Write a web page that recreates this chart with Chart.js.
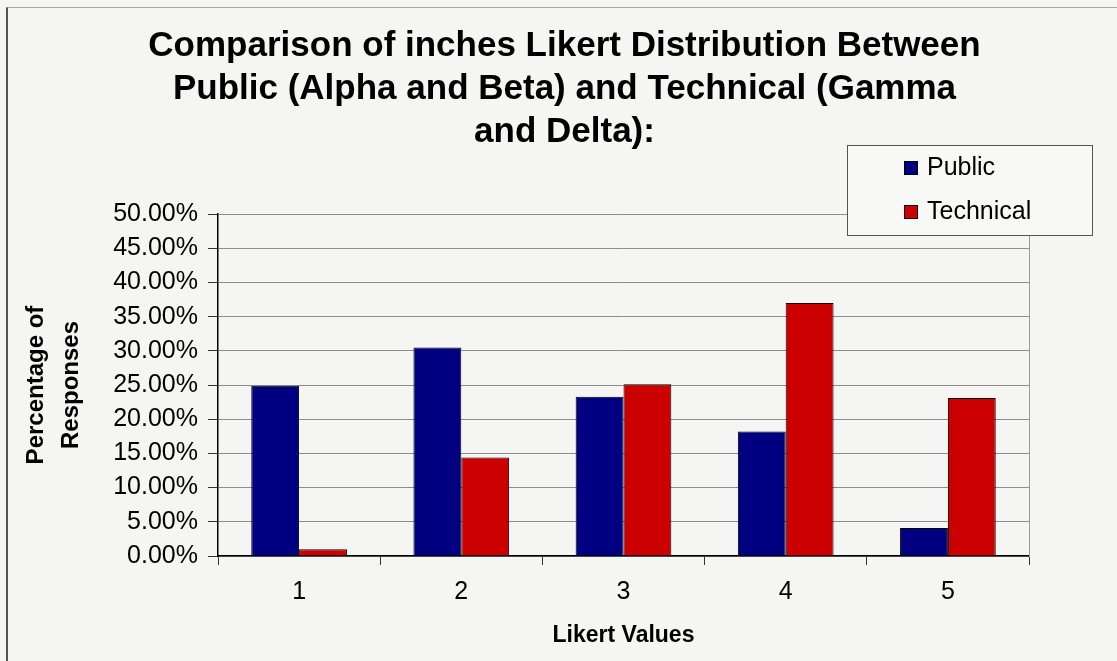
<!DOCTYPE html>
<html>
<head>
<meta charset="utf-8">
<script src="https://cdn.jsdelivr.net/npm/chart.js@4"></script>
<style>
  body { margin: 0; background: #f5f5f3; overflow: hidden; }
  #moldura { position: absolute; left: 6px; top: 7px; width: 1120px; height: 660px; border-left: 2px solid #555; border-top: 1px solid #a8a8a8; }
  #caixa { position: absolute; left: 0; top: 0; width: 1117px; height: 661px; }
</style>
</head>
<body>
<div id="moldura"></div>
<div id="caixa"><canvas id="grafico"></canvas></div>
<script>
// dados (percentual de respostas)
var categorias = ['1', '2', '3', '4', '5'];
var publico = [24.9, 30.5, 23.3, 18.2, 4.1];
var tecnico = [1.0, 14.4, 25.1, 37.0, 23.1];
var nomesSeries = ['Public', 'Technical'];
var titulo = ['Comparison of inches Likert Distribution Between',
              'Public (Alpha and Beta) and Technical (Gamma',
              'and Delta):'];

Chart.defaults.font.family = '"Liberation Sans", Arial, sans-serif';
Chart.defaults.color = '#000';

// legenda desenhada a mao, caixa no canto superior direito
var legendaCaixa = {
  id: 'legendaCaixa',
  afterDraw: function(chart) {
    var ctx = chart.ctx;
    ctx.save();
    ctx.fillStyle = '#f8f8f6';
    ctx.fillRect(847, 145, 245, 90);
    ctx.strokeStyle = '#555';
    ctx.lineWidth = 1;
    ctx.strokeRect(847.5, 145.5, 245, 90);
    chart.data.datasets.forEach(function(ds, i) {
      var y = 168 + i * 44;
      ctx.fillStyle = ds.backgroundColor;
      ctx.fillRect(904, y - 7, 14, 14);
      ctx.strokeStyle = '#000';
      ctx.strokeRect(904.5, y - 6.5, 13, 13);
      ctx.fillStyle = '#000';
      ctx.font = '25px "Liberation Sans", Arial, sans-serif';
      ctx.textBaseline = 'middle';
      ctx.fillText(ds.label, 927, y);
    });
    ctx.restore();
  }
};

var ctx = document.getElementById('grafico').getContext('2d');
var grafico = new Chart(ctx, {
  type: 'bar',
  data: {
    labels: categorias,
    datasets: [
      { label: nomesSeries[0], data: publico, backgroundColor: '#000080', borderColor: '#000', borderWidth: 1 },
      { label: nomesSeries[1], data: tecnico, backgroundColor: '#cc0000', borderColor: '#000', borderWidth: 1 }
    ]
  },
  options: {
    responsive: true,
    maintainAspectRatio: false,
    animation: false,
    categoryPercentage: 0.59,
    barPercentage: 1.0,
    layout: { padding: { left: 12, right: 0, top: 0, bottom: 0 } },
    plugins: {
      legend: { display: false },
      tooltip: { enabled: false },
      title: {
        display: true,
        text: titulo,
        color: '#000',
        font: { size: 35, weight: 'bold', lineHeight: 1.229 },
        padding: { top: 25, bottom: 60 }
      }
    },
    scales: {
      x: {
        ticks: { color: '#000', font: { size: 25 }, padding: 12 },
        grid: { drawOnChartArea: false, tickColor: '#333', tickLength: 9 },
        border: { color: '#000', width: 1.5 },
        title: { display: true, text: 'Likert Values', color: '#000', font: { size: 23, weight: 'bold' }, padding: { top: 0, bottom: 12 } },
        afterFit: function(s) { s.height = 105; }
      },
      y: {
        min: 0,
        max: 50,
        ticks: {
          stepSize: 5,
          color: '#000',
          font: { size: 25 },
          padding: 10,
          callback: function(v) { return v.toFixed(2) + '%'; }
        },
        grid: { color: '#8c8c8c', tickColor: '#333', tickLength: 10 },
        border: { color: '#000', width: 1.5 },
        title: {
          display: true,
          text: ['Percentage of', 'Responses'],
          color: '#000',
          font: { size: 24, weight: 'bold', lineHeight: 1.45 },
          padding: { top: 7, bottom: 0 }
        },
        afterFit: function(s) { s.width = 206; }
      },
      yDireita: {
        position: 'right',
        min: 0,
        max: 50,
        ticks: { display: false },
        grid: { drawOnChartArea: false, drawTicks: false },
        border: { color: '#999', width: 1 },
        afterFit: function(s) { s.width = 88; }
      }
    }
  },
  plugins: [legendaCaixa]
});
</script>
</body>
</html>
